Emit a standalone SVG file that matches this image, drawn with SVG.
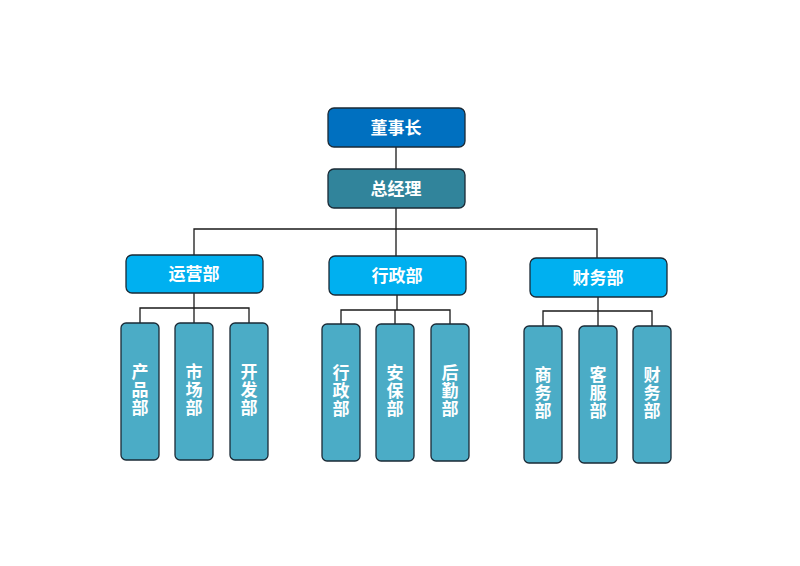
<svg xmlns="http://www.w3.org/2000/svg" width="800" height="566" viewBox="0 0 800 566">
<style>
.b{stroke:#1a2a36;stroke-width:1.3}
.t{fill:#fff;font-family:"Noto Sans CJK SC",sans-serif;font-weight:bold;font-size:17px;text-anchor:middle}
.v{writing-mode:vertical-rl;letter-spacing:1px}
.l{fill:#4bacc6}
.c{fill:none;stroke:#1a1a1a;stroke-width:1.3}
</style>
<rect width="800" height="566" fill="#fff"/>
<g id="connectors" class="c">
<path d="M396 147V169M396 208V256M194 255V229H597V258"/>
<path d="M194 293V308M140 323V308H249V323M194 308V323"/>
<path d="M397 295V310M341 324V310H450V324M395 310V324"/>
<path d="M598 297V311M543 326V311H652V326M598 311V326"/>
</g>
<g id="n1"><rect class="b" x="328" y="108" width="137" height="39" rx="6" fill="#0070c0"/><text class="t" x="396" y="134">董事长</text></g>
<g id="n2"><rect class="b" x="328" y="169" width="137" height="39" rx="6" fill="#31849b"/><text class="t" x="396" y="195">总经理</text></g>
<g id="n3"><rect class="b" x="126" y="255" width="137" height="38" rx="6" fill="#00b0f0"/><text class="t" x="194" y="280">运营部</text></g>
<g id="n4"><rect class="b" x="329" y="256" width="137" height="39" rx="6" fill="#00b0f0"/><text class="t" x="397" y="282">行政部</text></g>
<g id="n5"><rect class="b" x="530" y="258" width="137" height="39" rx="6" fill="#00b0f0"/><text class="t" x="598" y="284">财务部</text></g>
<g id="a1"><rect class="b l" x="121" y="323" width="38" height="137" rx="5"/><text class="t v" x="140" y="390">产品部</text></g>
<g id="a2"><rect class="b l" x="175" y="323" width="38" height="137" rx="5"/><text class="t v" x="194" y="390">市场部</text></g>
<g id="a3"><rect class="b l" x="230" y="323" width="38" height="137" rx="5"/><text class="t v" x="249" y="390">开发部</text></g>
<g id="b1"><rect class="b l" x="322" y="324" width="38" height="137" rx="5"/><text class="t v" x="341" y="391">行政部</text></g>
<g id="b2"><rect class="b l" x="376" y="324" width="38" height="137" rx="5"/><text class="t v" x="395" y="391">安保部</text></g>
<g id="b3"><rect class="b l" x="431" y="324" width="38" height="137" rx="5"/><text class="t v" x="450" y="391">后勤部</text></g>
<g id="c1"><rect class="b l" x="524" y="326" width="38" height="137" rx="5"/><text class="t v" x="543" y="393">商务部</text></g>
<g id="c2"><rect class="b l" x="579" y="326" width="38" height="137" rx="5"/><text class="t v" x="598" y="393">客服部</text></g>
<g id="c3"><rect class="b l" x="633" y="326" width="38" height="137" rx="5"/><text class="t v" x="652" y="393">财务部</text></g>
</svg>
